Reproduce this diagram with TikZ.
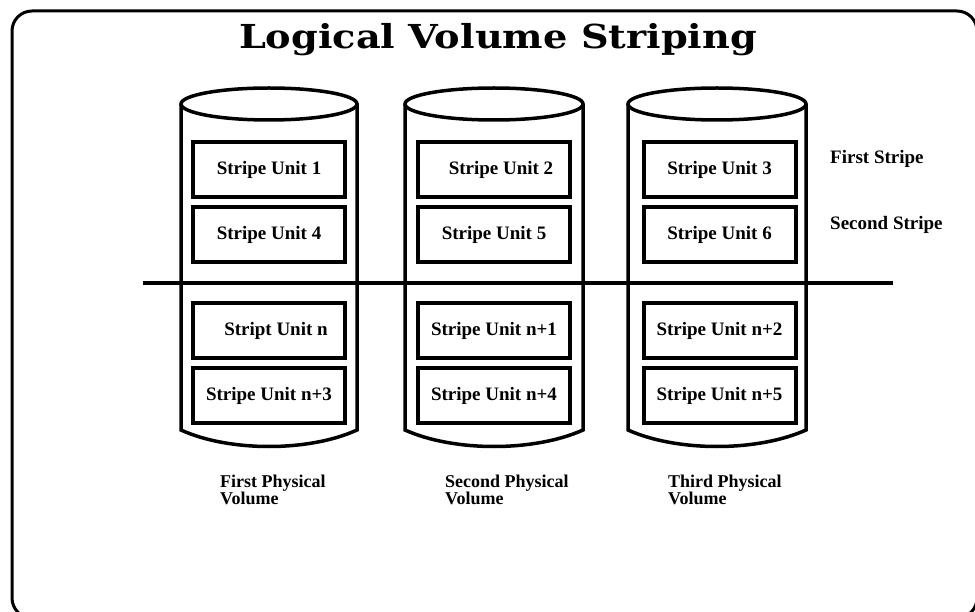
\documentclass[tikz,border=0pt]{standalone}
\usepackage{fontspec}
\setmainfont{Liberation Serif}
\newfontfamily\titlefont{DejaVu Serif}
\usepackage{graphicx}
\tikzset{
  frameline/.style={line width=3pt, rounded corners=20pt},
  cylline/.style={line width=3.5pt},
  unitbox/.style={draw, line width=4pt, minimum width=152pt, minimum height=55pt, inner sep=0pt,
    font=\fontsize{19}{22}\selectfont\bfseries},
  sidelabel/.style={anchor=base west, inner sep=0pt, font=\fontsize{19}{22}\selectfont\bfseries},
  pvlabel/.style={anchor=north west, inner sep=0pt, align=left, font=\fontsize{18}{17}\selectfont\bfseries},
  divider/.style={line width=3.5pt}
}
\begin{document}
\begin{tikzpicture}[x=1pt,y=-1pt]
\useasboundingbox (0,0) rectangle (975,612);
\clip (0,0) rectangle (975,612);
\fill[white] (0,0) rectangle (975,612);
% frame
\draw[frameline] (12,11) rectangle (977,618);
% title
\node[anchor=base, inner sep=0pt] (title) at (498,49) {\scalebox{1.16}[1]{\titlefont\fontsize{33}{36}\selectfont\bfseries Logical Volume Striping}};
% cylinders
\foreach \L/\R in {181/357, 405/583, 628/806}{
  \pgfmathsetmacro{\C}{(\L+\R)/2}
  \pgfmathsetmacro{\rx}{(\R-\L)/2}
  \draw[cylline] (\C,104) ellipse [x radius=\rx, y radius=16];
  \draw[cylline] (\L,104) -- (\L,430) .. controls (\C-40,452) and (\C+40,452) .. (\R,430) -- (\R,104);
}
% divider
\coordinate (dl) at (143,283);
\coordinate (dr) at (893,283);
\draw[divider] (dl) -- (dr);
% stripe unit boxes
\node[unitbox] (u1) at (269,169.5) {Stripe Unit 1};
\node[unitbox] (u4) at (269,234.5) {Stripe Unit 4};
\node[unitbox] (un) at (269,330.5) {\hspace*{14pt}Stript Unit n};
\node[unitbox] (un3) at (269,395.5) {Stripe Unit n+3};
\node[unitbox] (u2) at (494,169.5) {\hspace*{14pt}Stripe Unit 2};
\node[unitbox] (u5) at (494,234.5) {Stripe Unit 5};
\node[unitbox] (un1) at (494,330.5) {Stripe Unit n+1};
\node[unitbox] (un4) at (494,395.5) {Stripe Unit n+4};
\node[unitbox] (u3) at (719.5,169.5) {Stripe Unit 3};
\node[unitbox] (u6) at (719.5,234.5) {Stripe Unit 6};
\node[unitbox] (un2) at (719.5,330.5) {Stripe Unit n+2};
\node[unitbox] (un5) at (719.5,395.5) {Stripe Unit n+5};
% side labels
\node[sidelabel] (s1) at (830,164) {First Stripe};
\node[sidelabel] (s2) at (830,230) {Second Stripe};
% physical volume labels
\node[pvlabel] (pv1) at (220,475) {First Physical\\Volume};
\node[pvlabel] (pv2) at (445,475) {Second Physical\\Volume};
\node[pvlabel] (pv3) at (668,475) {Third Physical\\Volume};
\end{tikzpicture}
\end{document}
